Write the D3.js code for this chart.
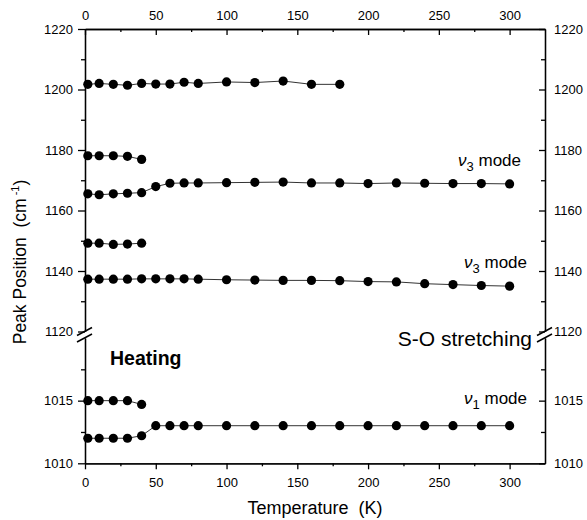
<!DOCTYPE html>
<html>
  <head>
    <meta charset="utf-8">
    <script type="text/javascript" src="https://cdn.jsdelivr.net/npm/d3@7"></script>
    <style>
      body { margin: 0; background: #fff; }
      text { font-family: "Liberation Sans", Arial, Helvetica, sans-serif; fill: #000; }
    </style>
  </head>
  <body>
    <script type="text/javascript">

// temperatures (K)
var tempShort = [2, 10, 20, 30, 40];
var tempMid = [2, 10, 20, 30, 40, 50, 60, 70, 80, 100, 120, 140, 160, 180];
var tempAll = [2, 10, 20, 30, 40, 50, 60, 70, 80, 100, 120, 140, 160, 180, 200, 220, 240, 260, 280, 300];

// upper panel peaks (cm-1)
var peak1202 = [1201.7, 1202.0, 1201.7, 1201.4, 1202.0, 1201.8, 1201.8, 1202.4, 1202.0, 1202.5, 1202.3, 1202.8, 1201.7, 1201.7];
var peak1178 = [1178.1, 1178.1, 1178.1, 1177.9, 1176.9];
var peak1169 = [1165.5, 1165.2, 1165.5, 1165.7, 1165.9, 1167.9, 1169.0, 1169.1, 1169.1, 1169.2, 1169.3, 1169.4, 1169.1, 1169.1, 1168.9, 1169.1, 1169.0, 1168.9, 1168.9, 1168.8];
var peak1149 = [1149.2, 1149.2, 1148.8, 1148.9, 1149.2];
var peak1137 = [1137.3, 1137.3, 1137.3, 1137.3, 1137.4, 1137.4, 1137.4, 1137.4, 1137.3, 1137.1, 1137.0, 1136.9, 1136.9, 1136.8, 1136.5, 1136.4, 1135.8, 1135.5, 1135.2, 1135.0];

// lower panel peaks (cm-1)
var peak1015 = [1015.0, 1015.0, 1015.0, 1015.0, 1014.7];
var peak1013 = [1012.0, 1012.0, 1012.0, 1012.0, 1012.2, 1013.0, 1013.0, 1013.0, 1013.0, 1013.0, 1013.0, 1013.0, 1013.0, 1013.0, 1013.0, 1013.0, 1013.0, 1013.0, 1013.0, 1013.0];

var xTicks = [0, 50, 100, 150, 200, 250, 300];
var xMinor = [25, 75, 125, 175, 225, 275];
var yUpTicks = [1120, 1140, 1160, 1180, 1200, 1220];
var yUpMinor = [1130, 1150, 1170, 1190, 1210];
var yLowTicks = [1010, 1015];
var yLowMinor = [1012.5, 1017.5];

var w = 587;
var h = 520;

var x = d3.scaleLinear().domain([0, 325]).range([85, 545]);
var yUp = d3.scaleLinear().domain([1120, 1220]).range([331.5, 29]);
var yLow = d3.scaleLinear().domain([1010, 1020]).range([463.3, 338]);

var svg =
  d3.select("body")
    .append("svg")
    .attr("width", w)
    .attr("height", h);

function styleAxis(g) {
  g.selectAll("path, line").attr("stroke", "#000").attr("stroke-width", 1.3);
  g.selectAll("text").attr("font-size", 13).attr("font-family", null).attr("fill", "#000");
}

// bottom axis (ticks outward)
svg.append("g").attr("transform", "translate(0,463.3)")
  .call(d3.axisBottom(x).tickValues(xTicks).tickSize(6).tickSizeOuter(0).tickPadding(8).tickFormat(d3.format("d")))
  .call(styleAxis);
svg.append("g").attr("transform", "translate(0,463.3)")
  .call(d3.axisBottom(x).tickValues(xMinor).tickSize(3).tickSizeOuter(0).tickFormat(""))
  .call(styleAxis);

// top axis (ticks inward)
svg.append("g").attr("transform", "translate(0,29)")
  .call(d3.axisTop(x).tickValues(xTicks).tickSize(-6).tickSizeOuter(0).tickPadding(9).tickFormat(d3.format("d")))
  .call(styleAxis);
svg.append("g").attr("transform", "translate(0,29)")
  .call(d3.axisTop(x).tickValues(xMinor).tickSize(-3).tickSizeOuter(0).tickFormat(""))
  .call(styleAxis);

// left axes (ticks outward), right axes (ticks inward)
[[yUp, yUpTicks, yUpMinor], [yLow, yLowTicks, yLowMinor]].forEach(function(p) {
  svg.append("g").attr("transform", "translate(85,0)")
    .call(d3.axisLeft(p[0]).tickValues(p[1]).tickSize(7).tickSizeOuter(0).tickPadding(5).tickFormat(d3.format("d")))
    .call(styleAxis);
  svg.append("g").attr("transform", "translate(85,0)")
    .call(d3.axisLeft(p[0]).tickValues(p[2]).tickSize(4).tickSizeOuter(0).tickFormat(""))
    .call(styleAxis);
  svg.append("g").attr("transform", "translate(545,0)")
    .call(d3.axisRight(p[0]).tickValues(p[1]).tickSize(-6).tickSizeOuter(0).tickPadding(9).tickFormat(d3.format("d")))
    .call(styleAxis);
  svg.append("g").attr("transform", "translate(545,0)")
    .call(d3.axisRight(p[0]).tickValues(p[2]).tickSize(-4).tickSizeOuter(0).tickFormat(""))
    .call(styleAxis);
});

// axis break marks
[85, 545].forEach(function(ax) {
  [331.5, 338].forEach(function(yb) {
    svg.append("line")
      .attr("x1", ax - 8).attr("y1", yb + 4)
      .attr("x2", ax + 7).attr("y2", yb - 4)
      .attr("stroke", "#000").attr("stroke-width", 1.5);
  });
});

// series
var series = [
  { t: tempMid, v: peak1202, y: yUp },
  { t: tempShort, v: peak1178, y: yUp },
  { t: tempAll, v: peak1169, y: yUp },
  { t: tempShort, v: peak1149, y: yUp },
  { t: tempAll, v: peak1137, y: yUp },
  { t: tempShort, v: peak1015, y: yLow },
  { t: tempAll, v: peak1013, y: yLow }
];

series.forEach(function(s) {
  var pts = s.t.map(function(t, i) { return { t: t, v: s.v[i] }; });
  var line = d3.line()
    .x(function(d) { return x(d.t); })
    .y(function(d) { return s.y(d.v); });
  svg.append("path")
    .attr("d", line(pts))
    .attr("fill", "none")
    .attr("stroke", "#333")
    .attr("stroke-width", 1);
  svg.selectAll(null)
    .data(pts)
    .enter()
    .append("circle")
    .attr("cx", function(d) { return x(d.t); })
    .attr("cy", function(d) { return s.y(d.v); })
    .attr("r", 4.6)
    .style("fill", "#000");
});

// mode labels
function modeLabel(xr, yb, sub) {
  var t = svg.append("text")
    .attr("x", xr).attr("y", yb)
    .attr("text-anchor", "end")
    .attr("font-size", 17);
  t.append("tspan").attr("font-style", "italic").text("ν");
  t.append("tspan").attr("dy", 5).attr("font-size", 13).text(sub);
  t.append("tspan").attr("dy", -5).text(" mode");
}
modeLabel(521, 166, "3");
modeLabel(527, 268, "3");
modeLabel(527, 404, "1");

svg.append("text")
  .attr("x", 532).attr("y", 346)
  .attr("text-anchor", "end")
  .attr("font-size", 21)
  .text("S-O stretching");

svg.append("text")
  .attr("x", 110).attr("y", 365)
  .attr("font-size", 19.5)
  .attr("font-weight", "bold")
  .text("Heating");

// axis titles
svg.append("text")
  .attr("x", 315).attr("y", 514)
  .attr("text-anchor", "middle")
  .attr("font-size", 18)
  .attr("xml:space", "preserve")
  .text("Temperature  (K)");

var yt = svg.append("text")
  .attr("transform", "translate(26,262) rotate(-90)")
  .attr("text-anchor", "middle")
  .attr("font-size", 17.5)
  .attr("xml:space", "preserve");
yt.append("tspan").text("Peak Position  (cm");
yt.append("tspan").attr("dy", -7).attr("font-size", 11).text(" -1");
yt.append("tspan").attr("dy", 7).text(")");

    </script>
  </body>
</html>
